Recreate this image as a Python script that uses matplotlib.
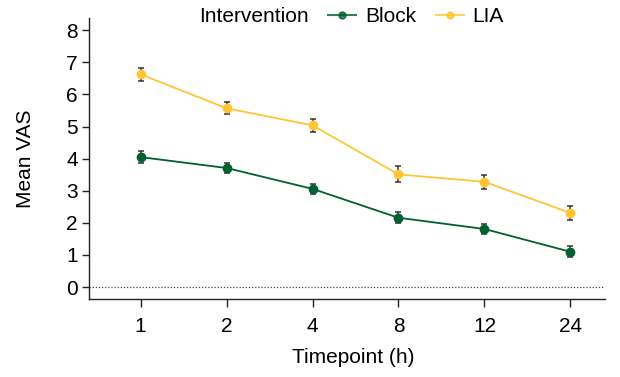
import numpy as np
import matplotlib.pyplot as plt
from matplotlib.lines import Line2D

plt.rcParams.update({
    "font.family": ["Liberation Sans", "DejaVu Sans"],
    "font.size": 15,
})

# Data
timepoints = ["1", "2", "4", "8", "12", "24"]
block_mean = [4.05, 3.71, 3.06, 2.16, 1.81, 1.10]
block_err = [0.19, 0.17, 0.16, 0.17, 0.17, 0.17]
lia_mean = [6.63, 5.57, 5.04, 3.51, 3.28, 2.31]
lia_err = [0.20, 0.19, 0.21, 0.25, 0.21, 0.21]

green = "#00602f"
yellow = "#ffc535"
errc = "#333333"

fig = plt.figure(figsize=(6.2, 3.77), dpi=100)
ax = fig.add_axes([0.1435, 0.207, 0.832, 0.745])

x = np.arange(len(timepoints))
ax.axhline(0, color="#444444", linestyle=(0, (1, 1.5)), linewidth=0.9, zorder=1)

for mean, err, col in [(block_mean, block_err, green), (lia_mean, lia_err, yellow)]:
    ax.plot(x, mean, color=col, linewidth=1.3, zorder=2)
    ax.errorbar(x, mean, yerr=err, fmt="none", ecolor=errc, elinewidth=1.1,
                capsize=2.5, capthick=1.1, zorder=3)
    ax.plot(x, mean, "o", color=col, markersize=6, zorder=4)

ax.set_xticks(x)
ax.set_xticklabels(timepoints)
ax.set_yticks(range(0, 9))
ax.set_xlim(-0.6, 5.4)
ax.set_ylim(-0.37, 8.38)
ax.set_xlabel("Timepoint (h)", fontsize=15)
ax.set_ylabel("Mean VAS", fontsize=15)
ax.xaxis.set_label_coords(0.513, -0.175)
ax.yaxis.set_label_coords(-0.105, 0.5)

for side in ["top", "right"]:
    ax.spines[side].set_visible(False)
for side in ["left", "bottom"]:
    ax.spines[side].set_color("#222222")
    ax.spines[side].set_linewidth(1.0)
ax.tick_params(axis="y", length=5, width=1, color="#222222", pad=3)
ax.tick_params(axis="x", length=6, width=1, color="#222222", pad=7)

handles = [
    Line2D([], [], linestyle="none"),
    Line2D([], [], color=green, marker="o", markersize=5, linewidth=1.5, alpha=0.8),
    Line2D([], [], color=yellow, marker="o", markersize=5, linewidth=1.5, alpha=0.8),
]
fig.legend(handles, ["Intervention", "Block", "LIA"], ncol=3, frameon=False,
           loc="center", bbox_to_anchor=(0.537, 0.955), fontsize=15,
           handlelength=1.35, handletextpad=0.4, columnspacing=0.95)

fig.savefig("out.png", dpi=100)
